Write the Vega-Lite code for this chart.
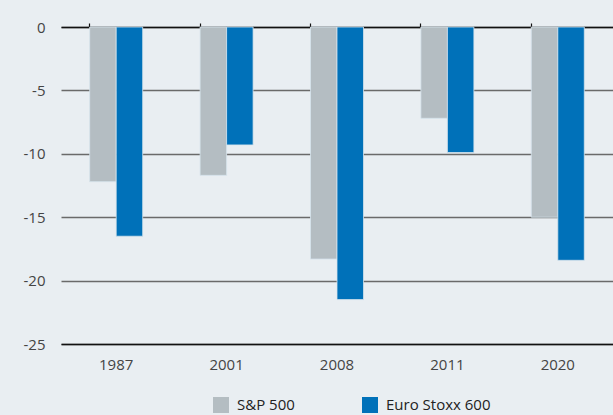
{
  "$schema": "https://vega.github.io/schema/vega-lite/v6.json",
  "autosize": "none",
  "padding": {"left": 61, "top": 27, "right": 0, "bottom": 71},
  "width": 552,
  "height": 317,
  "background": "#e9eef2",
  "config": {
    "view": {"stroke": null},
    "font": "Open Sans"
  },
  "data": {
    "values": [
      {"year": "1987", "index": "S&P 500", "value": -12.2},
      {"year": "1987", "index": "Euro Stoxx 600", "value": -16.5},
      {"year": "2001", "index": "S&P 500", "value": -11.7},
      {"year": "2001", "index": "Euro Stoxx 600", "value": -9.3},
      {"year": "2008", "index": "S&P 500", "value": -18.3},
      {"year": "2008", "index": "Euro Stoxx 600", "value": -21.5},
      {"year": "2011", "index": "S&P 500", "value": -7.2},
      {"year": "2011", "index": "Euro Stoxx 600", "value": -9.9},
      {"year": "2020", "index": "S&P 500", "value": -15.0},
      {"year": "2020", "index": "Euro Stoxx 600", "value": -18.4}
    ]
  },
  "resolve": {"axis": {"x": "independent"}},
  "layer": [
    {
      "mark": {"type": "bar", "opacity": 0},
      "encoding": {
        "x": {
          "field": "year", "type": "nominal",
          "axis": {
            "orient": "bottom", "title": null,
            "domain": true, "domainColor": "#111111", "domainWidth": 1.5,
            "ticks": false, "labelPadding": 13, "labelFontSize": 15, "labelColor": "#444444",
            "labelAngle": 0, "grid": false
          }
        }
      }
    },
    {
      "mark": {"type": "bar", "stroke": "#d6e3ec", "strokeWidth": 0.8},
      "encoding": {
        "x": {
          "field": "year", "type": "nominal",
          "scale": {"paddingInner": 0.52, "paddingOuter": 0.26},
          "axis": {
            "orient": "top", "title": null, "labels": false,
            "domain": true, "domainColor": "#111111", "domainWidth": 1.5,
            "ticks": true, "tickColor": "#111111", "tickSize": 4, "tickWidth": 1.2,
            "bandPosition": 0, "grid": false
          }
        },
        "xOffset": {"field": "index", "type": "nominal", "sort": ["S&P 500", "Euro Stoxx 600"]},
        "y": {
          "field": "value", "type": "quantitative",
          "scale": {"domain": [-25, 0], "nice": false},
          "axis": {
            "title": null, "domain": false, "ticks": false,
            "values": [0, -5, -10, -15, -20, -25],
            "labelExpr": "replace(datum.label, '\u2212', '-')",
            "grid": true, "gridColor": "#6a6a6a", "gridWidth": 1.3,
            "labelPadding": 16, "labelFontSize": 15, "labelColor": "#444444"
          }
        },
        "color": {
          "field": "index", "type": "nominal",
          "scale": {"domain": ["S&P 500", "Euro Stoxx 600"], "range": ["#b4bdc2", "#0071b9"]},
          "legend": {
            "title": null, "orient": "none", "legendX": 152, "legendY": 370,
            "direction": "horizontal", "columns": 2, "columnPadding": 67,
            "symbolType": "square", "symbolSize": 256, "symbolStrokeWidth": 0, "symbolOpacity": 1,
            "labelFontSize": 15, "labelColor": "#222222", "labelOffset": 8
          }
        }
      }
    }
  ]
}
